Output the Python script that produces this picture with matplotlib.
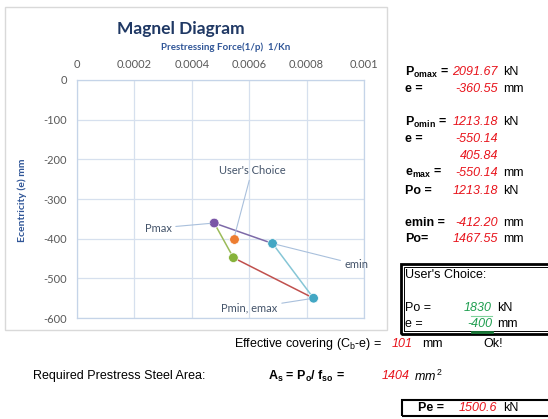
import matplotlib
matplotlib.use("Agg")
from matplotlib import pyplot as plt
from matplotlib.patches import Rectangle
from matplotlib.lines import Line2D

W, H = 548, 419

# magnel points: prestressing force (kN) and eccentricity (mm)
point_names = ["Pmax", "emin", "Pmin, emax", "limit"]
forces = [2091.67, 1467.55, 1213.18, 1835.0]
eccs = [-360.55, -412.20, -550.14, -448.0]
point_colors = ["#7A55A6", "#43A7C4", "#43A7C4", "#86B23A"]

# sides of the zone, as pairs of point indexes
sides = [(0, 1), (1, 2), (3, 2), (0, 3)]
side_colors = ["#7D6AA8", "#86C6D6", "#C0504D", "#9BBB59"]

user_force = 1830
user_ecc = -400

x_ticks = [0, 0.0002, 0.0004, 0.0006, 0.0008, 0.001]
x_tick_labels = ["0", "0.0002", "0.0004", "0.0006", "0.0008", "0.001"]
y_ticks = [0, -100, -200, -300, -400, -500, -600]

# results table on the right
res_labels = ["P$_{\\mathbf{omax}}$ =", "e =", "P$_{\\mathbf{omin}}$ =", "e =", "",
              "e$_{\\mathbf{max}}$ =", "Po =", "emin =", "Po="]
res_values = ["2091.67", "-360.55", "1213.18", "-550.14", "405.84",
              "-550.14", "1213.18", "-412.20", "1467.55"]
res_units = ["kN", "mm", "kN", "", "", "mm", "kN", "mm", "mm"]
res_rows = [72, 89, 122, 139, 156, 173, 191, 223, 239]

cover = 101
steel_area = 1404
pe = 1500.6

plt.rcParams['axes.unicode_minus'] = False
plt.rcParams['mathtext.fontset'] = 'custom'
plt.rcParams['mathtext.rm'] = 'Liberation Sans'
plt.rcParams['mathtext.it'] = 'Liberation Sans:italic'
plt.rcParams['mathtext.bf'] = 'Liberation Sans:bold'

fig = plt.figure(figsize=(W / 100, H / 100), dpi=100)


def px(x, y):
    return x / W, 1 - y / H


# chart frame
fig.patches.append(Rectangle(px(5, 330), 382 / W, 323 / H, transform=fig.transFigure,
                             fill=False, edgecolor="#D9D9D9", lw=1))

ax = fig.add_axes([77 / W, 1 - 318 / H, 287 / W, 238 / H])
ax.set_xlim(0, 0.001)
ax.set_ylim(-600, 0)
ax.xaxis.tick_top()
ax.set_xticks(x_ticks)
ax.set_xticklabels(x_tick_labels)
ax.set_yticks(y_ticks)
ax.set_yticklabels([str(v) for v in y_ticks])
ax.tick_params(length=0, pad=7, labelsize=8, labelcolor="#595959")
for lab in ax.get_xticklabels() + ax.get_yticklabels():
    lab.set_family("Lato")
ax.grid(color="#D6E0EE", lw=0.9)
for s in ax.spines.values():
    s.set_color("#C5D4E8")
    s.set_linewidth(0.9)

inv = [1.0 / f for f in forces]
for (a, b), c in zip(sides, side_colors):
    ax.plot([inv[a], inv[b]], [eccs[a], eccs[b]], color=c, lw=1.1, zorder=2)
ax.scatter(inv, eccs, s=48, c=point_colors, edgecolors="white", linewidths=0.5, zorder=3)
ax.scatter([1.0 / user_force], [user_ecc], s=48, c="#ED7D31", edgecolors="white",
           linewidths=0.5, zorder=3)

lead = dict(arrowstyle="-", color="#A9C0DC", lw=0.8, shrinkA=1, shrinkB=3)
lab_kw = dict(textcoords="offset pixels", fontsize=8, color="#44546A", family="Lato",
              ha="center", va="center", arrowprops=lead, annotation_clip=False)
ax.annotate("Pmax", (inv[0], eccs[0]), xytext=(-56, -5), **lab_kw)
ax.annotate("emin", (inv[1], eccs[1]), xytext=(84, -21), **lab_kw)
ax.annotate("Pmin, emax", (inv[2], eccs[2]), xytext=(-64, -10), **lab_kw)
ax.annotate("User's Choice", (1.0 / user_force, user_ecc), xytext=(18, 68), **lab_kw)

fig.text(*px(181, 29), "Magnel Diagram", fontsize=12.5, fontweight="bold",
         color="#1F3864", family="Lato", ha="center", va="center")
fig.text(*px(226, 47), "Prestressing Force(1/p)  1/Kn", fontsize=7, fontweight="bold",
         color="#2F5597", family="Lato", ha="center", va="center")
fig.text(*px(22, 200), "Ecentricity (e) mm", fontsize=7.5, fontweight="bold",
         color="#2F5597", family="Lato", ha="center", va="center", rotation=90)

txt = dict(family="Liberation Sans", fontsize=9, va="center")
red = "#E8131B"
for lab, val, unit, y in zip(res_labels, res_values, res_units, res_rows):
    fig.text(*px(405, y), lab, fontweight="bold", ha="left", **txt)
    fig.text(*px(498, y), val, color=red, style="italic", ha="right", **txt)
    fig.text(*px(503, y), unit, ha="left", **txt)

# user's choice box
fig.patches.append(Rectangle(px(401, 334), 160 / W, 70 / H, transform=fig.transFigure,
                             fill=False, edgecolor="black", lw=2))
fig.patches.append(Rectangle(px(404, 331), 160 / W, 64 / H, transform=fig.transFigure,
                             fill=False, edgecolor="black", lw=0.7))
fig.text(*px(405, 275), "User's Choice:", ha="left", **txt)
green = "#1E9E4F"
fig.text(*px(405, 308), "Po =", ha="left", **txt)
fig.text(*px(492, 308), str(user_force), color=green, style="italic", ha="right", **txt)
fig.text(*px(497, 308), "kN", ha="left", **txt)
fig.text(*px(405, 324), "e =", ha="left", **txt)
fig.text(*px(492, 324), str(user_ecc), color=green, style="italic", ha="right", **txt)
fig.text(*px(497, 324), "mm", ha="left", **txt)
fig.lines.append(Line2D([471 / W, 492 / W], [1 - 316 / H, 1 - 316 / H],
                        transform=fig.transFigure, color="#7FD39B", lw=0.8))
fig.lines.append(Line2D([472 / W, 492 / W], [1 - 332 / H, 1 - 332 / H],
                        transform=fig.transFigure, color="#1B7A3A", lw=2))

fig.text(*px(382, 344), "Effective covering (C$_{\\mathrm{b}}$-e) =", ha="right", **txt)
fig.text(*px(413, 344), str(cover), color=red, style="italic", ha="right", **txt)
fig.text(*px(422, 344), "mm", ha="left", **txt)
fig.text(*px(483, 344), "Ok!", ha="left", **txt)

fig.text(*px(33, 376), "Required Prestress Steel Area:", ha="left", **txt)
fig.text(*px(268, 376), "A$_{\\mathbf{s}}$ = P$_{\\mathbf{o}}$/ f$_{\\mathbf{so}}$ =",
         fontweight="bold", ha="left", **txt)
fig.text(*px(410, 376), str(steel_area), color=red, style="italic", ha="right", **txt)
fig.text(*px(414, 376), "$\\mathit{mm}^{\\,2}$", ha="left", **txt)

fig.patches.append(Rectangle(px(402, 416), 160 / W, 16 / H, transform=fig.transFigure,
                             fill=False, edgecolor="black", lw=1.5))
fig.text(*px(418, 408), "Pe =", fontweight="bold", ha="left", **txt)
fig.text(*px(497, 408), str(pe), color=red, style="italic", ha="right", **txt)
fig.text(*px(503, 408), "kN", ha="left", **txt)

fig.savefig("out.png", dpi=100)
